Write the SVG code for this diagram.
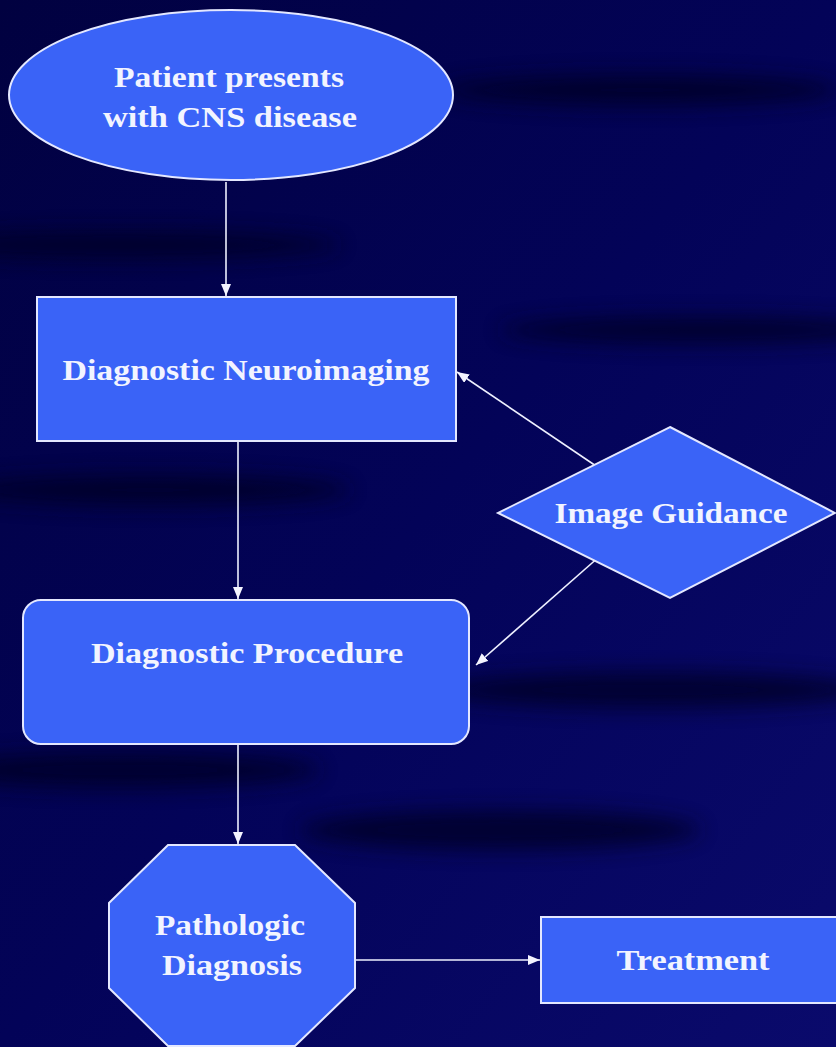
<svg xmlns="http://www.w3.org/2000/svg" width="836" height="1047" viewBox="0 0 836 1047">
<style>
.node{fill:#3a63f7;stroke:#e4e8ff;stroke-width:2}
.lbl{font-family:"Liberation Serif","Times New Roman",serif;font-weight:bold;font-size:30px;fill:#f2f4ff;text-anchor:middle}
.edge{stroke:#eef0ff;stroke-width:1.6;fill:none;marker-end:url(#ah)}
</style>
<defs>
<marker id="ah" viewBox="0 0 12 10" refX="12" refY="5" markerWidth="12" markerHeight="10" markerUnits="userSpaceOnUse" orient="auto">
<path d="M0,0 L12,5 L0,10 z" fill="#f4f4ff"/>
</marker>
<linearGradient id="bg" x1="0" y1="0" x2="1" y2="1">
<stop offset="0" stop-color="#010140"/>
<stop offset="0.5" stop-color="#030358"/>
<stop offset="1" stop-color="#0a0a6c"/>
</linearGradient>
<filter id="blur" x="-20%" y="-200%" width="140%" height="500%"><feGaussianBlur stdDeviation="10"/></filter>
</defs>
<rect width="836" height="1047" fill="url(#bg)"/>
<g id="streaks" filter="url(#blur)" fill="#000028" opacity="0.8">
<ellipse cx="120" cy="245" rx="220" ry="14"/>
<ellipse cx="640" cy="90" rx="200" ry="16"/>
<ellipse cx="700" cy="330" rx="200" ry="14"/>
<ellipse cx="150" cy="490" rx="200" ry="16"/>
<ellipse cx="650" cy="690" rx="220" ry="18"/>
<ellipse cx="120" cy="770" rx="200" ry="18"/>
<ellipse cx="500" cy="830" rx="200" ry="20"/>
</g>
<g id="connectors">
<line class="edge" x1="226" y1="182" x2="226" y2="296"/>
<line class="edge" x1="238" y1="441" x2="238" y2="599"/>
<line class="edge" x1="238" y1="744" x2="238" y2="844"/>
<line class="edge" x1="599" y1="468" x2="457" y2="372"/>
<line class="edge" x1="600" y1="556" x2="476" y2="665"/>
<line class="edge" x1="355" y1="960" x2="540" y2="960"/>
</g>
<g id="patient">
<ellipse class="node" cx="231" cy="95" rx="222" ry="85"/>
<text class="lbl" x="229" y="87" textLength="230" lengthAdjust="spacingAndGlyphs">Patient presents</text>
<text class="lbl" x="230" y="127" textLength="254" lengthAdjust="spacingAndGlyphs">with CNS disease</text>
</g>
<g id="neuroimaging">
<rect class="node" x="37" y="297" width="419" height="144"/>
<text class="lbl" x="246" y="380" textLength="367" lengthAdjust="spacingAndGlyphs">Diagnostic Neuroimaging</text>
</g>
<g id="guidance">
<polygon class="node" points="670,427 835,513 670,598 498,513"/>
<text class="lbl" x="671" y="523" textLength="233" lengthAdjust="spacingAndGlyphs">Image Guidance</text>
</g>
<g id="procedure">
<rect class="node" x="23" y="600" width="446" height="144" rx="18" ry="18"/>
<text class="lbl" x="247" y="663" textLength="312" lengthAdjust="spacingAndGlyphs">Diagnostic Procedure</text>
</g>
<g id="pathologic">
<polygon class="node" points="168,845 295,845 355,903 355,988 295,1046 168,1046 109,988 109,903"/>
<text class="lbl" x="230" y="935" textLength="150" lengthAdjust="spacingAndGlyphs">Pathologic</text>
<text class="lbl" x="232" y="975" textLength="140" lengthAdjust="spacingAndGlyphs">Diagnosis</text>
</g>
<g id="treatment">
<rect class="node" x="541" y="917" width="300" height="86"/>
<text class="lbl" x="693" y="970" textLength="153" lengthAdjust="spacingAndGlyphs">Treatment</text>
</g>
</svg>
